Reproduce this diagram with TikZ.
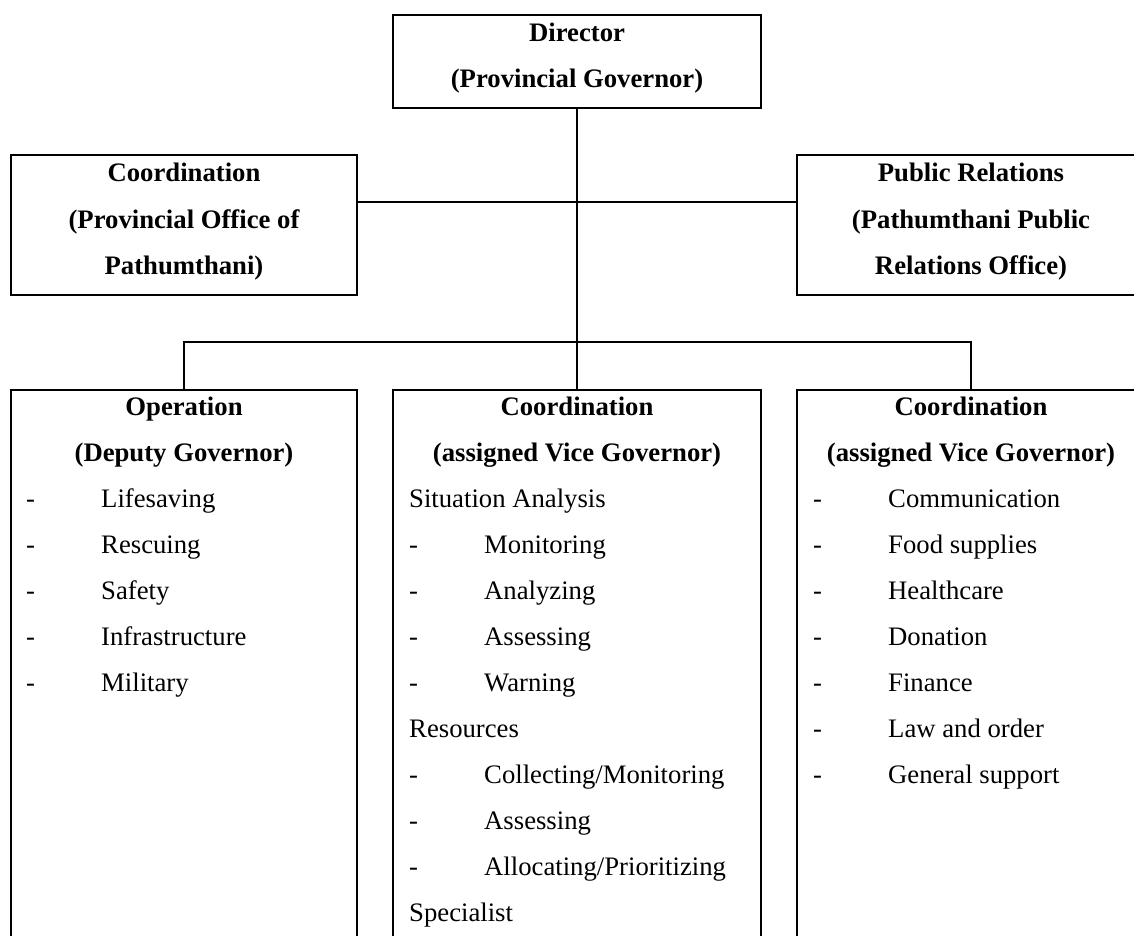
\documentclass[tikz,border=0pt]{standalone}
\usepackage{fontspec}
\setmainfont{Liberation Serif}
\begin{document}
\begin{tikzpicture}[x=1pt,y=-1pt,
  box/.style={draw,line width=2pt,inner sep=0pt,outer sep=0pt},
  link/.style={line width=1.5pt},
  head/.style={font=\bfseries\fontsize{26.7}{32}\selectfont,anchor=base,inner sep=0pt},
  item/.style={font=\fontsize{26.7}{32}\selectfont,anchor=base west,inner sep=0pt}]
\useasboundingbox (0,0) rectangle (1134,936);
\clip (0,0) rectangle (1134,936);

% boxes
\node[box,minimum width=368pt,minimum height=93pt] (dir) at (577,61.5) {};
\node[box,minimum width=346pt,minimum height=140pt] (lc) at (184,225) {};
\node[box,minimum width=348pt,minimum height=140pt] (pr) at (971,225) {};
\node[box,minimum width=346pt,minimum height=570pt] (op) at (184,675) {};
\node[box,minimum width=368pt,minimum height=570pt] (mc) at (577,675) {};
\node[box,minimum width=348pt,minimum height=570pt] (rc) at (971,675) {};

% connectors
\coordinate (hj) at (577,202);
\coordinate (bj) at (577,342);
\draw[link] (dir.south) -- (bj);
\draw[link] (hj -| lc.east) -- (hj -| pr.west);
\draw[link] (op.north) |- (bj) -| (rc.north);
\draw[link] (bj) -- (mc.north);

% headings
\node[head] (d1) at (577,42) {Director};
\node[head] (d2) at (577,88) {(Provincial Governor)};
\node[head] (l1) at (184,182) {Coordination};
\node[head] (l2) at (184,228) {(Provincial Office of};
\node[head] (l3) at (184,274) {Pathumthani)};
\node[head] (p1) at (971,182) {Public Relations};
\node[head] (p2) at (971,228) {(Pathumthani Public};
\node[head] (p3) at (971,274) {Relations Office)};
\node[head] (o1) at (184,415.5) {Operation};
\node[head] (o2) at (184,461.5) {(Deputy Governor)};
\node[head] (m1) at (577,415.5) {Coordination};
\node[head] (m2) at (577,461.5) {(assigned Vice Governor)};
\node[head] (r1) at (971,415.5) {Coordination};
\node[head] (r2) at (971,461.5) {(assigned Vice Governor)};

% operation list
\foreach \t [count=\i] in {Lifesaving,Rescuing,Safety,Infrastructure,Military} {
  \node[item] (od\i) at (26,{461+46*\i}) {-};
  \node[item] (ot\i) at (101,{461+46*\i}) {\t};
}

% situation analysis / resources / specialist
\node[item] (sa) at (409,507) {Situation Analysis};
\foreach \t [count=\i] in {Monitoring,Analyzing,Assessing,Warning} {
  \node[item] (sd\i) at (409,{507+46*\i}) {-};
  \node[item] (st\i) at (484,{507+46*\i}) {\t};
}
\node[item] (rs) at (409,737) {Resources};
\foreach \t [count=\i] in {Collecting/Monitoring,Assessing,Allocating/Prioritizing} {
  \node[item] (rd\i) at (409,{737+46*\i}) {-};
  \node[item] (rt\i) at (484,{737+46*\i}) {\t};
}
\node[item] (sp) at (409,921) {Specialist};

% support list
\foreach \t [count=\i] in {Communication,Food supplies,Healthcare,Donation,Finance,Law and order,General support} {
  \node[item] (cd\i) at (813,{461+46*\i}) {-};
  \node[item] (ct\i) at (888,{461+46*\i}) {\t};
}
\end{tikzpicture}
\end{document}
